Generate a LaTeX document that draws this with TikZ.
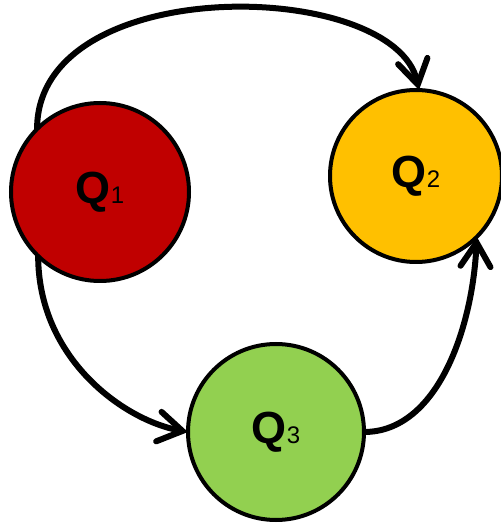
\documentclass[tikz,border=0pt]{standalone}
\usepackage{fontspec}
\setmainfont{Liberation Sans}
\usetikzlibrary{arrows.meta}
\definecolor{qred}{HTML}{C00000}
\definecolor{qyellow}{HTML}{FFC000}
\definecolor{qgreen}{HTML}{92D050}
\newcommand{\qlabel}[1]{{\fontsize{45}{45}\selectfont\bfseries Q}{\fontsize{24}{24}\selectfont #1}}
\tikzset{
  state/.style={circle, draw=black, line width=4pt, inner sep=0pt, outer sep=0pt},
  conn/.style={line width=6pt, -{Straight Barb[length=24pt, width=30pt, line cap=round]}}
}
\begin{document}
\begin{tikzpicture}[x=1pt,y=1pt]
\useasboundingbox (0,0) rectangle (501,523);
\node[state, fill=qred, minimum size=178pt] (q1) at (100,331) {\qlabel{1}};
\node[state, fill=qyellow, minimum size=172pt] (q2) at (416,347) {\qlabel{2}};
\node[state, fill=qgreen, minimum size=176pt] (q3) at (276,91) {\qlabel{3}};
\draw[conn] (q1.135) .. controls +(0,158) and +(-24,112) .. (q2.88);
\draw[conn] (q1.226) .. controls +(0,-102) and +(-65,12) .. (q3.west);
\draw[conn] (q3.east) .. controls +(74,0) and +(-4,-90) .. (q2.315);
\end{tikzpicture}
\end{document}
